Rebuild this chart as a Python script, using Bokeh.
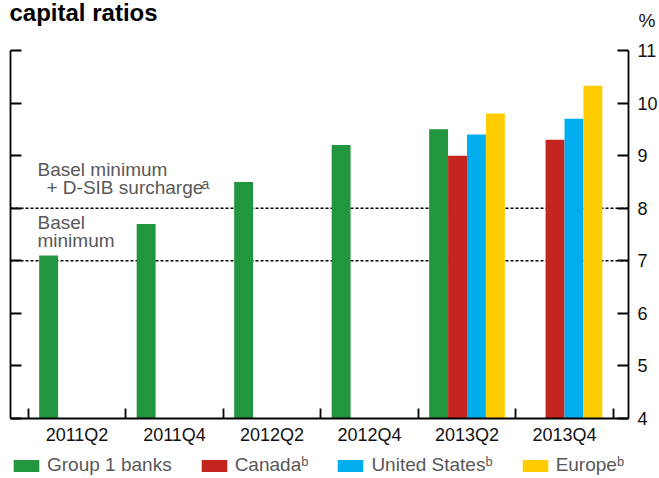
from bokeh.plotting import figure
from bokeh.models import (FixedTicker, LinearAxis, Legend, LegendItem, Label,
                          Range1d, ColumnDataSource)
from bokeh.embed import file_html
from bokeh.resources import INLINE

# ---------------- data ----------------
categories = ["2011Q2", "2011Q4", "2012Q2", "2012Q4", "2013Q2", "2013Q4"]
group1 = [7.1, 7.7, 8.5, 9.2, 9.5, None]
canada = [None, None, None, None, 9.0, 9.3]
united_states = [None, None, None, None, 9.4, 9.7]
europe = [None, None, None, None, 9.8, 10.33]
thresholds = [7, 8]
y_ticks = [4, 5, 6, 7, 8, 9, 10, 11]
y_min, y_max = 4, 11

series = [
    ("Group 1 banks", group1, "#22963F"),
    ("Canadaᵇ", canada, "#C4261F"),
    ("United Statesᵇ", united_states, "#00AEEF"),
    ("Europeᵇ", europe, "#FFCC00"),
]

# ---------------- layout constants ----------------
W, H = 659, 478
FONT = "Liberation Sans"
X0, PXU_X = -0.7846, 97.5        # data x at left canvas edge, px per category
Y_TOP, PXU_Y = 11.951, 52.57     # data y at top canvas edge, px per unit
BAR_W = 0.194
offsets = [-1.5 * BAR_W, -0.5 * BAR_W, 0.5 * BAR_W, 1.5 * BAR_W]


def px2x(px):
    return X0 + px / PXU_X


def py2y(py):
    return Y_TOP - py / PXU_Y


AX_L, AX_R = px2x(10), px2x(628)

p = figure(width=W, height=H,
           x_range=Range1d(X0, X0 + W / PXU_X),
           y_range=Range1d(Y_TOP - H / PXU_Y, Y_TOP),
           output_backend="svg", toolbar_location=None, min_border=0)
p.title.visible = False
p.outline_line_color = None
p.xgrid.visible = False
p.ygrid.visible = False
p.background_fill_color = "white"
p.border_fill_color = "white"

# dashed regulatory lines (under the bars)
p.segment(x0=AX_L, x1=AX_R, y0=thresholds, y1=thresholds,
          line_color="black", line_width=1.5, line_dash="3 2")

renderers = []
for k, (name, vals, col) in enumerate(series):
    xs = [i + offsets[k] for i, v in enumerate(vals) if v is not None]
    tops = [v for v in vals if v is not None]
    src = ColumnDataSource(dict(x=xs, top=tops))
    r = p.vbar(x="x", top="top", bottom=y_min, width=BAR_W, source=src,
               fill_color=col, line_color=None)
    renderers.append((name, r))

LW = 1.8

# x axis
xa = p.xaxis[0]
xa.fixed_location = y_min
xa.bounds = (AX_L, AX_R)
xa.ticker = FixedTicker(ticks=list(range(len(categories))),
                        minor_ticks=[i - 0.5 for i in range(len(categories) + 1)])
xa.major_label_overrides = {i: c for i, c in enumerate(categories)}
xa.major_tick_in = 0
xa.major_tick_out = 0
xa.minor_tick_in = 10
xa.minor_tick_out = 0
xa.minor_tick_line_width = LW
xa.minor_tick_line_color = "black"
xa.axis_line_width = LW
xa.axis_line_color = "black"
xa.major_label_text_font = FONT
xa.major_label_text_font_size = "18px"
xa.major_label_text_color = "#111111"
xa.major_label_standoff = 7

# left axis: ticks only
ya = p.yaxis[0]
ya.fixed_location = AX_L
ya.bounds = (y_min, y_max)
ya.ticker = FixedTicker(ticks=y_ticks)
ya.major_label_overrides = {t: "" for t in y_ticks}
ya.major_tick_in = 11
ya.major_tick_out = 0
ya.minor_tick_in = 0
ya.minor_tick_out = 0
ya.axis_line_width = LW
ya.major_tick_line_width = LW
ya.axis_line_color = "black"
ya.major_tick_line_color = "black"

# right axis with labels
ra = LinearAxis(ticker=FixedTicker(ticks=y_ticks), fixed_location=AX_R,
                bounds=(y_min, y_max))
ra.major_tick_in = 11
ra.major_tick_out = 0
ra.minor_tick_in = 0
ra.minor_tick_out = 0
ra.axis_line_width = LW
ra.major_tick_line_width = LW
ra.axis_line_color = "black"
ra.major_tick_line_color = "black"
ra.major_label_text_font = FONT
ra.major_label_text_font_size = "18px"
ra.major_label_text_color = "#111111"
ra.major_label_standoff = 9
p.add_layout(ra, "right")

# annotations
ann_color = "#585858"


def lab(text, px, py, size=19, color=ann_color, style="normal", align="left"):
    # py is the wanted baseline in pixels; compensate label baseline offset
    p.add_layout(Label(x=px2x(px), y=py2y(py - 0.4 * size), text=text,
                       text_font=FONT, text_font_size=f"{size}px",
                       text_color=color, text_font_style=style,
                       text_align=align, text_baseline="alphabetic"))


lab("Basel minimum", 37, 177)
lab("+ D-SIB surcharge", 46, 195)
lab("a", 201, 189, size=14)
lab("Basel", 37, 230)
lab("minimum", 37, 248)
lab("capital ratios", 9, 22, size=24, color="black", style="bold")
lab("%", 655, 28, size=19, color="#111111", align="right")

legend = Legend(items=[LegendItem(label=n, renderers=[r]) for n, r in renderers],
                location=(10, 2), orientation="horizontal",
                glyph_width=32, glyph_height=15, label_standoff=5, spacing=26,
                padding=0, margin=0, border_line_color=None,
                background_fill_alpha=0,
                label_text_font=FONT, label_text_font_size="19px",
                label_text_color=ann_color, label_height=15)
p.add_layout(legend)

open("out.html", "w").write(file_html(p, INLINE))
